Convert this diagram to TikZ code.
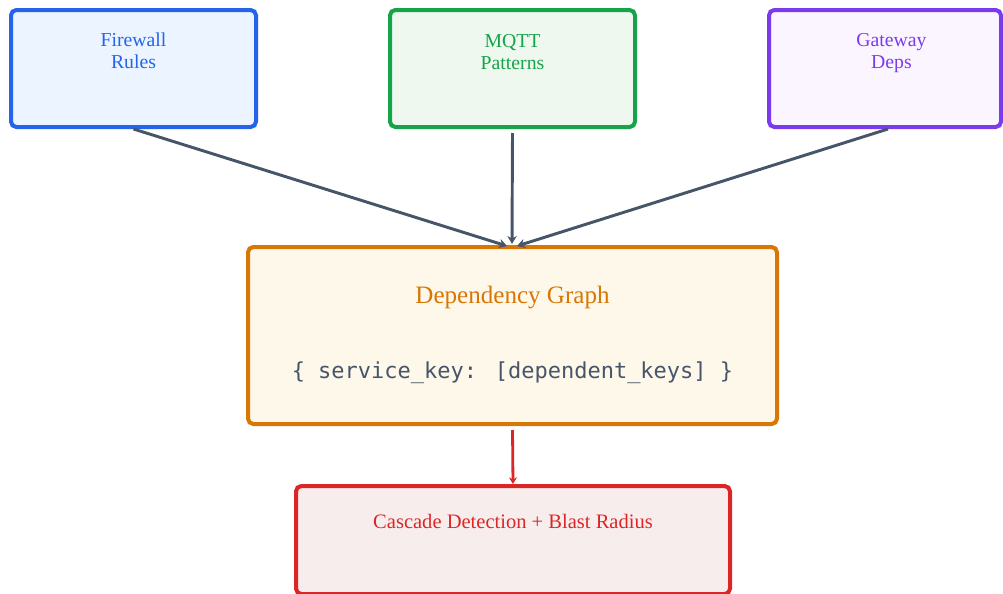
\documentclass[tikz,border=0pt]{standalone}
\usepackage{fontspec}
\setmainfont{Liberation Serif}
\newfontfamily\codefont{DejaVu Sans Mono}
\usetikzlibrary{arrows.meta}

\definecolor{fwline}{HTML}{2563EB}
\definecolor{fwfill}{HTML}{EBF4FF}
\definecolor{mqline}{HTML}{16A34A}
\definecolor{mqfill}{HTML}{EEF8EF}
\definecolor{gwline}{HTML}{7C3AED}
\definecolor{gwfill}{HTML}{FAF5FF}
\definecolor{dgline}{HTML}{D97706}
\definecolor{dgfill}{HTML}{FEF8EA}
\definecolor{cdline}{HTML}{DC2626}
\definecolor{cdfill}{HTML}{F8EDED}
\definecolor{slate}{HTML}{475569}

\tikzset{
  box/.style={draw, line width=3pt, rounded corners=4pt, inner sep=0pt},
  lbl/.style={align=center, inner sep=0pt, font=\rmfamily\fontsize{14.8}{16.5}\selectfont},
  feed/.style={draw=slate, line width=2.2pt, -{Stealth[length=6pt,width=7pt]}},
  alarm/.style={draw=cdline, line width=2.1pt, -{Stealth[length=5pt,width=6pt]}}
}

\begin{document}
\begin{tikzpicture}[x=0.75pt, y=-0.75pt]
  \useasboundingbox (0,0) rectangle (1003,593);

  % source boxes
  \node[box, draw=fwline, fill=fwfill, minimum width=245*0.75pt, minimum height=117*0.75pt]
    (fw) at (133.5,68.5) {};
  \node[lbl, text=fwline] (fwt) at (133.5,51) {Firewall\\Rules};

  \node[box, draw=mqline, fill=mqfill, minimum width=245*0.75pt, minimum height=117*0.75pt]
    (mq) at (512.5,68.5) {};
  \node[lbl, text=mqline] (mqt) at (512.5,52) {MQTT\\Patterns};

  \node[box, draw=gwline, fill=gwfill, minimum width=232*0.75pt, minimum height=117*0.75pt]
    (gw) at (885,68.5) {};
  \node[lbl, text=gwline] (gwt) at (891.5,53) {Gateway\\Deps};

  % dependency graph
  \node[box, draw=dgline, fill=dgfill, minimum width=529*0.75pt, minimum height=177*0.75pt]
    (dg) at (512.5,335.5) {};
  \node[lbl, text=dgline, font=\rmfamily\fontsize{18.8}{22}\selectfont] (dgt) at (512.5,297.5) {Dependency Graph};
  \node[inner sep=0pt, text=slate, font=\codefont\fontsize{16.5}{20}\selectfont] (dgc) at (512.5,373)
    {\{ service\_key: [dependent\_keys] \}};

  % cascade detection (runs past the lower edge)
  \node[box, draw=cdline, fill=cdfill, minimum width=434*0.75pt, minimum height=108*0.75pt]
    (cd) at (513,540) {};
  \node[lbl, text=cdline, font=\rmfamily\fontsize{15.4}{18}\selectfont] (cdt) at (513,521) {Cascade Detection + Blast Radius};

  % arrow end points on the graph box
  \coordinate (inL) at (507,246);
  \coordinate (inM) at (512,244);
  \coordinate (inR) at (517,246);

  \draw[feed] (fw.south) -- (inL);
  \draw[feed] ([yshift=-3pt]mq.south) -- (inM);
  \draw[feed] ([xshift=2.25pt]gw.south) -- (inR);
  \draw[alarm] ([yshift=-3pt]dg.south) -- (cd.north);
\end{tikzpicture}
\end{document}
